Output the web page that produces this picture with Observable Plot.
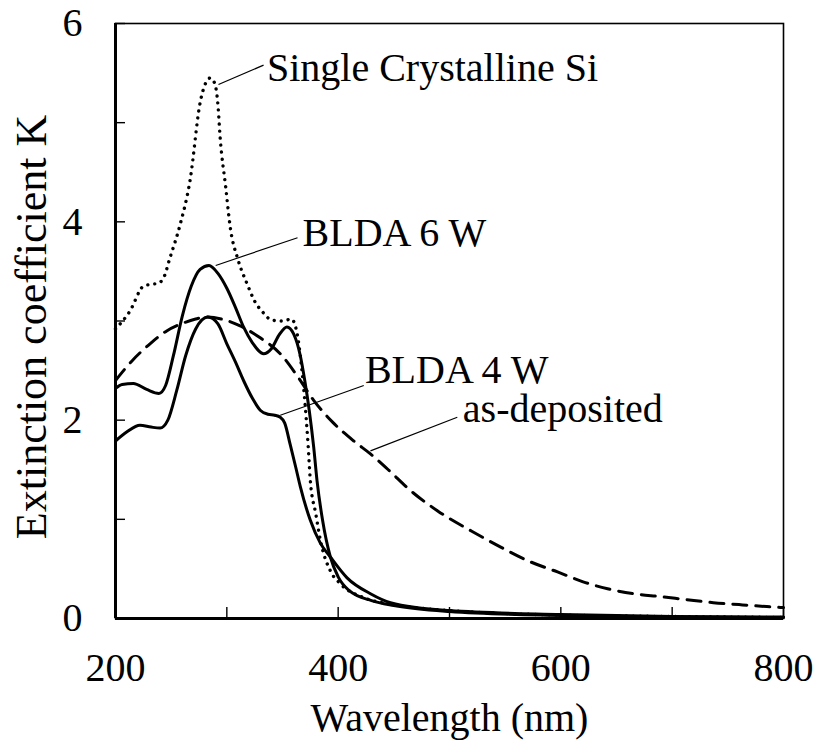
<!DOCTYPE html>
<html><head><meta charset="utf-8">
<script src="https://cdn.jsdelivr.net/npm/d3@7"></script>
<script src="https://cdn.jsdelivr.net/npm/@observablehq/plot@0.6"></script>
<style>body{margin:0;background:#fff}</style>
</head><body><div id="chart"></div>
<script>
// Single Crystalline Si (dotted)
const siWl = [200,213,225,232,238,243,249,258,267,276,281,285,289,292,294,299,303,310,318,325,333,340,350,358,363,367,370,373,375,380,384,393,402,423,450,500,550,600,700,800];
const siK  = [2.92,3.10,3.35,3.37,3.38,3.43,3.64,3.97,4.42,5.20,5.40,5.45,5.40,5.18,4.85,4.35,3.95,3.62,3.38,3.20,3.08,3.01,3.00,3.02,2.88,2.55,2.20,1.75,1.39,1.05,0.79,0.48,0.35,0.21,0.14,0.08,0.05,0.035,0.02,0.01];
// BLDA 6 W (solid)
const b6Wl = [200,206,216,228,239,245,252,260,268,276,284,292,300,308,315,323,333,340,347,354,360,366,370,374,378,381,386,393,400,410,430,450,500,600,700,800];
const b6K  = [2.32,2.36,2.37,2.31,2.27,2.35,2.65,3.05,3.35,3.52,3.56,3.48,3.33,3.13,2.94,2.78,2.67,2.72,2.86,2.94,2.87,2.65,2.40,2.10,1.73,1.39,0.99,0.62,0.42,0.28,0.18,0.13,0.07,0.03,0.015,0.01];
// BLDA 4 W (solid)
const b4Wl = [200,210,222,232,240,247,255,263,272,283,292,300,308,315,323,330,337,343,348,352,357,362,366,375,384,393,408,429,447,500,600,700,800];
const b4K  = [1.79,1.88,1.95,1.93,1.92,2.00,2.30,2.65,2.92,3.04,2.97,2.77,2.58,2.40,2.22,2.10,2.06,2.05,2.03,1.97,1.75,1.52,1.33,0.99,0.76,0.62,0.41,0.25,0.16,0.08,0.04,0.02,0.015];
// as-deposited (dashed)
const adWl = [200,215,231,246,261,272,282,295,312,330,348,363,378,395,414,429,445,465,490,520,546,573,597,620,642,665,690,713,737,760,785,800];
const adK  = [2.40,2.60,2.77,2.90,2.98,3.02,3.04,3.02,2.95,2.83,2.67,2.45,2.20,1.98,1.79,1.66,1.50,1.29,1.08,0.88,0.72,0.57,0.47,0.37,0.30,0.25,0.22,0.19,0.16,0.14,0.12,0.11];

// annotations
const labels   = ["Single Crystalline Si","BLDA 6 W","BLDA 4 W","as-deposited"];
const labelWl  = [336, 368, 424, 512];
const labelK   = [5.42, 3.76, 2.37, 1.98];
const leadWl1  = [292.5, 290, 348, 429];
const leadK1   = [5.385, 3.56, 2.05, 1.69];
const leadWl2  = [333, 363.5, 423, 507];
const leadK2   = [5.58, 3.84, 2.35, 2.03];

// axis ticks
const xTicks = [200,300,400,500,600,700,800];
const xTickLabels = [200,400,600,800];
const yTicks = [0,1,2,3,4,5,6];
const yTickLabels = [0,2,4,6];
const xTitle = "Wavelength (nm)";
const yTitle = "Extinction coefficient K";

const toRows = (w, k) => w.map((x, i) => ({wl: x, k: k[i]}));
const si = toRows(siWl, siK), b6 = toRows(b6Wl, b6K), b4 = toRows(b4Wl, b4K), ad = toRows(adWl, adK);
const ann = labels.map((t, i) => ({t, x: labelWl[i], y: labelK[i], x1: leadWl1[i], y1: leadK1[i], x2: leadWl2[i], y2: leadK2[i]}));

const font = "'Liberation Serif', 'Times New Roman', serif";
const chart = Plot.plot({
  width: 817, height: 740,
  marginLeft: 115, marginRight: 34, marginTop: 23, marginBottom: 122,
  style: {fontFamily: font, background: "#fff", color: "#000"},
  x: {domain: [200, 800], label: null},
  y: {domain: [0, 6], label: null},
  marks: [
    Plot.frame({stroke: "#000", strokeWidth: 1.6}),
    Plot.axisX(xTicks, {tickSize: -11, tickFormat: () => "", label: null, strokeWidth: 1.4}),
    Plot.axisY(yTicks, {tickSize: -10, tickFormat: () => "", label: null, strokeWidth: 1.4}),
    Plot.axisX(xTickLabels, {tickSize: 0, tickPadding: 34, fontSize: 40, label: null, tickFormat: d => String(d)}),
    Plot.axisY(yTickLabels, {tickSize: 0, tickPadding: 33, fontSize: 40, label: null, tickFormat: d => String(d)}),
    Plot.line(ad, {x: "wl", y: "k", stroke: "#000", strokeWidth: 3, strokeDasharray: "14,9", curve: "monotone-x"}),
    Plot.line(si, {x: "wl", y: "k", stroke: "#000", strokeWidth: 3.4, strokeDasharray: "0.01,7", strokeLinecap: "round", curve: "monotone-x"}),
    Plot.line(b6, {x: "wl", y: "k", stroke: "#000", strokeWidth: 3, curve: "monotone-x"}),
    Plot.line(b4, {x: "wl", y: "k", stroke: "#000", strokeWidth: 3, curve: "monotone-x"}),
    Plot.ruleX([200], {stroke: "#000", strokeWidth: 3}),
    Plot.ruleY([0], {stroke: "#000", strokeWidth: 3}),
    Plot.link(ann, {x1: "x1", y1: "y1", x2: "x2", y2: "y2", stroke: "#000", strokeWidth: 1.2}),
    Plot.text(ann, {x: "x", y: "y", text: "t", textAnchor: "start", lineAnchor: "bottom", fontSize: 40, fill: "#000"}),
    Plot.text([xTitle], {frameAnchor: "bottom", lineAnchor: "bottom", dy: 112, fontSize: 40, fill: "#000"}),
    Plot.text([yTitle], {frameAnchor: "left", rotate: -90, textAnchor: "middle", lineAnchor: "bottom", dx: -70, dy: 6, fontSize: 44, fill: "#000"})
  ]
});
document.getElementById("chart").appendChild(chart);
</script>
</body></html>
